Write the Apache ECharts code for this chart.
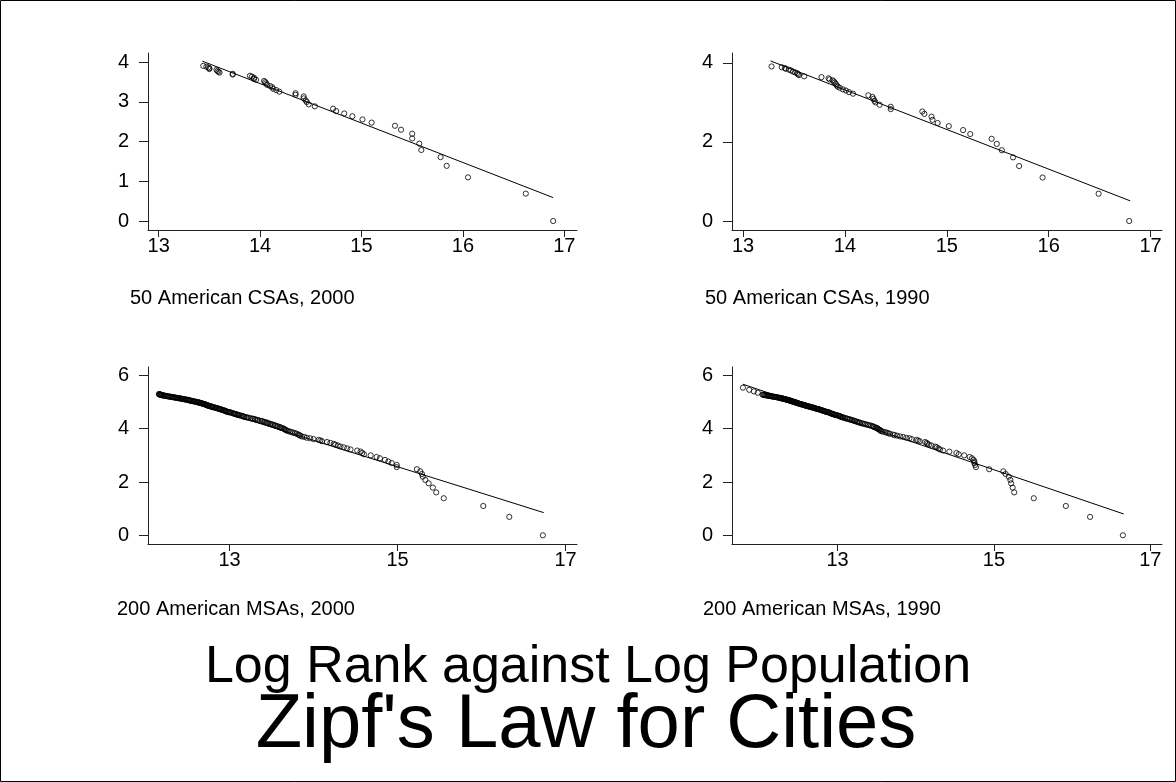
<!DOCTYPE html>
<html>
<head>
<meta charset="utf-8">
<title>Zipf's Law for Cities</title>
<script src="https://cdn.jsdelivr.net/npm/echarts@6/dist/echarts.min.js"></script>
<style>
  html, body { margin: 0; padding: 0; background: #fff; }
  #chart { width: 1176px; height: 782px; }
</style>
</head>
<body>
<div id="chart"></div>
<script>
// log(rank) for ranks 1..200
const logRank = [
  0.00, 0.69, 1.10, 1.39, 1.61, 1.79, 1.95, 2.08, 2.20, 2.30,
  2.40, 2.48, 2.56, 2.64, 2.71, 2.77, 2.83, 2.89, 2.94, 3.00,
  3.04, 3.09, 3.14, 3.18, 3.22, 3.26, 3.30, 3.33, 3.37, 3.40,
  3.43, 3.47, 3.50, 3.53, 3.56, 3.58, 3.61, 3.64, 3.66, 3.69,
  3.71, 3.74, 3.76, 3.78, 3.81, 3.83, 3.85, 3.87, 3.89, 3.91,
  3.93, 3.95, 3.97, 3.99, 4.01, 4.03, 4.04, 4.06, 4.08, 4.09,
  4.11, 4.13, 4.14, 4.16, 4.17, 4.19, 4.20, 4.22, 4.23, 4.25,
  4.26, 4.28, 4.29, 4.30, 4.32, 4.33, 4.34, 4.36, 4.37, 4.38,
  4.39, 4.41, 4.42, 4.43, 4.44, 4.45, 4.47, 4.48, 4.49, 4.50,
  4.51, 4.52, 4.53, 4.54, 4.55, 4.56, 4.57, 4.58, 4.60, 4.61,
  4.62, 4.62, 4.63, 4.64, 4.65, 4.66, 4.67, 4.68, 4.69, 4.70,
  4.71, 4.72, 4.73, 4.74, 4.74, 4.75, 4.76, 4.77, 4.78, 4.79,
  4.80, 4.80, 4.81, 4.82, 4.83, 4.84, 4.84, 4.85, 4.86, 4.87,
  4.88, 4.88, 4.89, 4.90, 4.91, 4.91, 4.92, 4.93, 4.93, 4.94,
  4.95, 4.96, 4.96, 4.97, 4.98, 4.98, 4.99, 5.00, 5.00, 5.01,
  5.02, 5.02, 5.03, 5.04, 5.04, 5.05, 5.06, 5.06, 5.07, 5.08,
  5.08, 5.09, 5.09, 5.10, 5.11, 5.11, 5.12, 5.12, 5.13, 5.14,
  5.14, 5.15, 5.15, 5.16, 5.16, 5.17, 5.18, 5.18, 5.19, 5.19,
  5.20, 5.20, 5.21, 5.21, 5.22, 5.23, 5.23, 5.24, 5.24, 5.25,
  5.25, 5.26, 5.26, 5.27, 5.27, 5.28, 5.28, 5.29, 5.29, 5.30
];

// log population of the 50 largest CSAs, 2000 (by rank)
const csa2000Pop = [
  16.89, 16.62, 16.05, 15.84, 15.78, 15.59, 15.57, 15.50, 15.50, 15.39,
  15.33, 15.10, 15.01, 14.91, 14.83, 14.75, 14.72, 14.54, 14.48, 14.46,
  14.45, 14.43, 14.43, 14.35, 14.35, 14.19, 14.16, 14.13, 14.12, 14.10,
  14.07, 14.06, 14.05, 14.04, 13.96, 13.94, 13.94, 13.92, 13.90, 13.73,
  13.73, 13.60, 13.59, 13.58, 13.57, 13.50, 13.50, 13.49, 13.47, 13.44
];

// log population of the 50 largest CSAs, 1990
const csa1990Pop = [
  16.79, 16.49, 15.94, 15.71, 15.65, 15.54, 15.49, 15.44, 15.23, 15.16,
  15.02, 14.91, 14.86, 14.85, 14.78, 14.76, 14.45, 14.45, 14.34, 14.30,
  14.29, 14.28, 14.27, 14.23, 14.08, 14.04, 14.01, 13.98, 13.95, 13.93,
  13.92, 13.91, 13.90, 13.89, 13.88, 13.85, 13.84, 13.77, 13.60, 13.55,
  13.54, 13.53, 13.51, 13.49, 13.47, 13.45, 13.42, 13.41, 13.38, 13.28
];

// log population of the 200 largest MSAs, 2000
const msa2000Pop = [
  16.73, 16.33, 16.02, 15.55, 15.46, 15.42, 15.37, 15.33, 15.30, 15.29,
  15.27, 15.23, 14.99, 14.99, 14.93, 14.89, 14.85, 14.79, 14.75, 14.68,
  14.60, 14.58, 14.56, 14.52, 14.44, 14.40, 14.36, 14.32, 14.29, 14.26,
  14.24, 14.20, 14.16, 14.10, 14.08, 14.06, 14.00, 13.96, 13.92, 13.89,
  13.86, 13.84, 13.83, 13.82, 13.80, 13.78, 13.76, 13.74, 13.72, 13.70,
  13.68, 13.67, 13.66, 13.65, 13.64, 13.62, 13.61, 13.60, 13.58, 13.57,
  13.55, 13.54, 13.52, 13.51, 13.49, 13.48, 13.46, 13.45, 13.44, 13.42,
  13.41, 13.39, 13.38, 13.36, 13.34, 13.33, 13.31, 13.30, 13.28, 13.27,
  13.25, 13.23, 13.21, 13.20, 13.18, 13.17, 13.16, 13.15, 13.14, 13.12,
  13.11, 13.10, 13.09, 13.08, 13.07, 13.06, 13.05, 13.04, 13.02, 13.01,
  13.00, 12.99, 12.98, 12.97, 12.96, 12.95, 12.95, 12.94, 12.93, 12.92,
  12.91, 12.90, 12.89, 12.88, 12.88, 12.87, 12.86, 12.85, 12.84, 12.83,
  12.82, 12.81, 12.80, 12.79, 12.79, 12.78, 12.77, 12.76, 12.75, 12.74,
  12.74, 12.73, 12.73, 12.72, 12.71, 12.71, 12.70, 12.69, 12.69, 12.68,
  12.67, 12.66, 12.66, 12.65, 12.64, 12.63, 12.63, 12.62, 12.61, 12.60,
  12.59, 12.58, 12.57, 12.56, 12.55, 12.54, 12.53, 12.52, 12.52, 12.51,
  12.50, 12.49, 12.48, 12.47, 12.46, 12.45, 12.44, 12.43, 12.42, 12.41,
  12.40, 12.39, 12.38, 12.37, 12.36, 12.35, 12.34, 12.33, 12.32, 12.31,
  12.30, 12.29, 12.28, 12.27, 12.26, 12.25, 12.24, 12.23, 12.22, 12.21,
  12.20, 12.20, 12.19, 12.19, 12.18, 12.18, 12.17, 12.17, 12.16, 12.16
];

// log population of the MSAs, 1990 (ranks 1..196)
const msa1990Pop = [
  16.65, 16.23, 15.92, 15.51, 15.26, 15.24, 15.22, 15.21, 15.19, 15.15,
  15.12, 14.94, 14.77, 14.76, 14.75, 14.75, 14.74, 14.72, 14.69, 14.62,
  14.55, 14.52, 14.43, 14.35, 14.31, 14.29, 14.27, 14.25, 14.20, 14.17,
  14.15, 14.14, 14.12, 14.05, 14.03, 14.01, 13.95, 13.92, 13.88, 13.84,
  13.80, 13.76, 13.73, 13.71, 13.67, 13.65, 13.63, 13.61, 13.58, 13.56,
  13.55, 13.54, 13.53, 13.52, 13.51, 13.50, 13.49, 13.47, 13.46, 13.45,
  13.43, 13.41, 13.39, 13.37, 13.35, 13.33, 13.31, 13.29, 13.28, 13.26,
  13.25, 13.23, 13.22, 13.21, 13.19, 13.18, 13.16, 13.15, 13.13, 13.12,
  13.10, 13.09, 13.07, 13.06, 13.05, 13.04, 13.03, 13.02, 13.01, 13.00,
  12.98, 12.97, 12.96, 12.95, 12.94, 12.93, 12.92, 12.91, 12.90, 12.89,
  12.88, 12.87, 12.86, 12.85, 12.84, 12.83, 12.82, 12.81, 12.80, 12.79,
  12.78, 12.77, 12.76, 12.75, 12.74, 12.73, 12.72, 12.71, 12.70, 12.69,
  12.68, 12.67, 12.66, 12.65, 12.64, 12.63, 12.62, 12.61, 12.60, 12.59,
  12.58, 12.58, 12.57, 12.56, 12.55, 12.54, 12.53, 12.52, 12.52, 12.51,
  12.50, 12.49, 12.49, 12.48, 12.47, 12.47, 12.46, 12.45, 12.45, 12.44,
  12.43, 12.42, 12.42, 12.41, 12.40, 12.40, 12.39, 12.38, 12.38, 12.37,
  12.36, 12.35, 12.35, 12.34, 12.33, 12.32, 12.31, 12.31, 12.30, 12.29,
  12.28, 12.27, 12.27, 12.26, 12.25, 12.24, 12.23, 12.22, 12.21, 12.20,
  12.19, 12.18, 12.17, 12.16, 12.15, 12.14, 12.13, 12.12, 12.11, 12.10,
  12.09, 12.08, 12.07, 12.06, 12.05, 12.04
];
// the four smallest 1990 MSAs
const msa1990TailPop = [11.98, 11.93, 11.87, 11.79];
const msa1990TailRank = [5.35, 5.40, 5.46, 5.54];

// fitted regression lines: [log population, log rank] at each end
const csa2000Fit = [[13.43, 4.03], [16.89, 0.59]];
const csa1990Fit = [[13.27, 4.05], [16.80, 0.51]];
const msa2000Fit = [[12.155, 5.39], [16.74, 0.85]];
const msa1990Fit = [[11.79, 5.67], [16.66, 0.80]];

// tick labels
const xTicksCSA = [13, 14, 15, 16, 17];
const xTicksMSA = [13, 15, 17];
const yTicksCSA2000 = [0, 1, 2, 3, 4];
const yTicksCSA1990 = [0, 2, 4];
const yTicksMSA = [0, 2, 4, 6];

// panel captions and titles
const captions = [
  '50 American CSAs, 2000', '50 American CSAs, 1990',
  '200 American MSAs, 2000', '200 American MSAs, 1990'
];
const title1 = 'Log Rank against Log Population';
const title2 = "Zipf's Law for Cities";

function pairs(xs, ys) {
  return xs.map((x, i) => [x, ys[i]]);
}

const FONT = '"Liberation Sans", Arial, Helvetica, sans-serif';
const INK = '#000';

function xAxis(grid, min, max, ticks) {
  return {
    type: 'value', gridIndex: grid, min: min, max: max,
    splitLine: { show: false },
    axisLine: { show: true, onZero: false, lineStyle: { color: '#222', width: 1 } },
    axisTick: { show: true, length: 7, customValues: ticks, lineStyle: { color: '#222', width: 1 } },
    axisLabel: { show: true, customValues: ticks, margin: 6, color: INK, fontSize: 20, fontFamily: FONT }
  };
}
function yAxis(grid, min, max, ticks) {
  return {
    type: 'value', gridIndex: grid, min: min, max: max,
    splitLine: { show: false },
    axisLine: { show: true, onZero: false, lineStyle: { color: '#222', width: 1 } },
    axisTick: { show: true, length: 9, customValues: ticks, lineStyle: { color: '#222', width: 1 } },
    axisLabel: { show: true, customValues: ticks, margin: 19, color: INK, fontSize: 20, fontFamily: FONT }
  };
}
function dots(i, data) {
  return {
    type: 'scatter', xAxisIndex: i, yAxisIndex: i, data: data,
    symbol: 'circle', symbolSize: 5.2,
    itemStyle: { color: 'rgba(0,0,0,0)', borderColor: INK, borderWidth: 1 },
    emphasis: { disabled: true }, silent: true
  };
}
function fit(i, data) {
  return {
    type: 'line', xAxisIndex: i, yAxisIndex: i, data: data,
    showSymbol: false, symbol: 'none',
    lineStyle: { color: INK, width: 1 }, silent: true
  };
}
function caption(text, x, y) {
  return { type: 'text', x: x, y: y,
    style: { text: text, font: '20px ' + FONT, fill: INK, align: 'left', verticalAlign: 'middle' } };
}

const msa1990All = pairs(msa1990Pop, logRank.slice(0, 196))
  .concat(pairs(msa1990TailPop, msa1990TailRank));

const chart = echarts.init(document.getElementById('chart'), null, { renderer: 'canvas' });
chart.setOption({
  animation: false,
  backgroundColor: '#fff',
  grid: [
    { left: 148, top: 53, width: 429, height: 177 },
    { left: 732, top: 53, width: 430, height: 177 },
    { left: 148, top: 367, width: 429, height: 177 },
    { left: 732, top: 367, width: 430, height: 177 }
  ],
  xAxis: [
    xAxis(0, 12.895, 17.125, xTicksCSA),
    xAxis(1, 12.892, 17.112, xTicksCSA),
    xAxis(2, 12.029, 17.136, xTicksMSA),
    xAxis(3, 11.65, 17.15, xTicksMSA)
  ],
  yAxis: [
    yAxis(0, -0.226, 4.234, yTicksCSA2000),
    yAxis(1, -0.227, 4.25, yTicksCSA1990),
    yAxis(2, -0.327, 6.316, yTicksMSA),
    yAxis(3, -0.327, 6.316, yTicksMSA)
  ],
  series: [
    dots(0, pairs(csa2000Pop, logRank.slice(0, 50))), fit(0, csa2000Fit),
    dots(1, pairs(csa1990Pop, logRank.slice(0, 50))), fit(1, csa1990Fit),
    dots(2, pairs(msa2000Pop, logRank)), fit(2, msa2000Fit),
    dots(3, msa1990All), fit(3, msa1990Fit)
  ],
  graphic: [
    { type: 'rect', shape: { x: 0.5, y: 0.5, width: 1175, height: 781 },
      style: { fill: 'none', stroke: INK, lineWidth: 1 }, silent: true },
    caption(captions[0], 130, 298),
    caption(captions[1], 705, 298),
    caption(captions[2], 117, 609),
    caption(captions[3], 703, 609),
    { type: 'text', x: 588, y: 668,
      style: { text: title1, font: '52px ' + FONT, fill: INK, align: 'center', verticalAlign: 'middle' } },
    { type: 'text', x: 586, y: 726,
      style: { text: title2, font: '76px ' + FONT, fill: INK, align: 'center', verticalAlign: 'middle' } }
  ]
});
</script>
</body>
</html>
